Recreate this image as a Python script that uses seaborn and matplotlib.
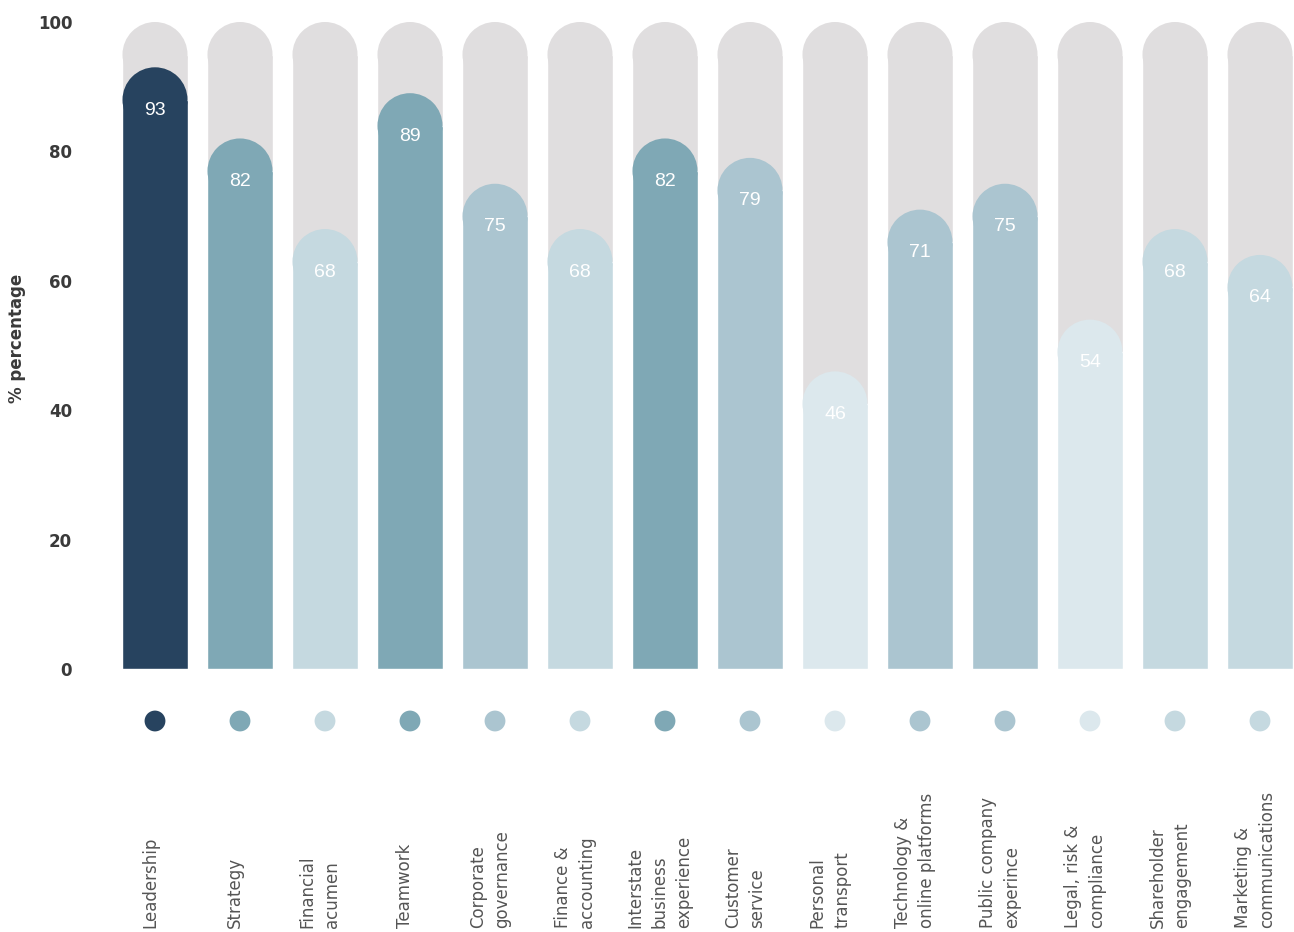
import matplotlib
matplotlib.use("Agg")
import matplotlib.pyplot as plt
from matplotlib.patches import Ellipse
import seaborn as sns
import pandas as pd

categories = ["Leadership", "Strategy", "Financial\nacumen", "Teamwork", "Corporate\ngovernance",
              "Finance &\naccounting", "Interstate\nbusiness\nexperience", "Customer\nservice",
              "Personal\ntransport", "Technology &\nonline platforms", "Public company\nexperince",
              "Legal, risk &\ncompliance", "Shareholder\nengagement", "Marketing &\ncommunications"]
values = [93, 82, 68, 89, 75, 68, 82, 79, 46, 71, 75, 54, 68, 64]
bar_colors = ["#27435f", "#7fa8b5", "#c5d9e0", "#7fa8b5", "#abc5d0", "#c5d9e0", "#7fa8b5",
              "#abc5d0", "#dce8ed", "#abc5d0", "#abc5d0", "#dce8ed", "#c5d9e0", "#c5d9e0"]
y_ticks = [0, 20, 40, 60, 80, 100]
full_value = 100

sns.set_theme(style="white")
plt.rcParams['font.family'] = ['Liberation Sans', 'DejaVu Sans']

W, H = 1294, 932
fig = plt.figure(figsize=(W / 100, H / 100), dpi=100)
ax_left, ax_right = 112.5, 1292.5
ax_bottom, ax_top = 669, 22
ax = fig.add_axes([ax_left / W, (H - ax_bottom) / H, (ax_right - ax_left) / W, (ax_bottom - ax_top) / H])

n = len(categories)
xlim = (-0.5, n - 0.5 - (1302.5 - 1292.5) / 85)
ax.set_xlim(*xlim)
ax.set_ylim(0, 100)

bw = 0.765
px_per_x = (ax_right - ax_left) / (xlim[1] - xlim[0])
px_per_y = (ax_bottom - ax_top) / 100.0
r_px = bw * px_per_x / 2
ry = r_px / px_per_y

df = pd.DataFrame({"cat": categories, "val": values})
df["bg"] = full_value - ry
df["body"] = df["val"] - ry

sns.barplot(data=df, x="cat", y="bg", color="#e0dedf", width=bw, ax=ax, saturation=1, order=categories)
sns.barplot(data=df, x="cat", y="body", hue="cat", palette=bar_colors, width=bw, ax=ax,
            saturation=1, order=categories, hue_order=categories, legend=False, dodge=False)
ax.set_xlim(*xlim)
ax.set_ylim(0, 100)

for i, (v, c) in enumerate(zip(values, bar_colors)):
    ax.add_patch(Ellipse((i, full_value - ry), bw, 2 * ry, facecolor="#e0dedf", edgecolor="none", zorder=1.5))
    ax.add_patch(Ellipse((i, v - ry), bw, 2 * ry, facecolor=c, edgecolor="none", zorder=2.5))
    ax.text(i, v - 43 / px_per_y, str(v), color="white", ha="center", va="center", fontsize=14,
            family=["Liberation Sans", "DejaVu Sans"], zorder=5)

# dots below the bars
dot_y = -(721 - ax_bottom) / px_per_y
ax.scatter(range(n), [dot_y] * n, s=225, c=bar_colors, clip_on=False, zorder=5, linewidths=0)

# category labels
label_y = -(928 - ax_bottom) / px_per_y
for i, cat in enumerate(categories):
    ax.text(i - 5 / px_per_x, label_y, cat, rotation=90, ha="center", va="bottom",
            fontsize=12, color="#555555", linespacing=1.45, clip_on=False, multialignment="left",
            family=["DejaVu Sans"])

ax.set_xticks([])
ax.set_xlabel("")
ax.set_yticks(y_ticks)
ax.set_yticklabels([str(t) for t in y_ticks], fontsize=12, color="#3a3a3a", fontweight="bold",
                   family=["DejaVu Sans"])
ax.tick_params(axis="y", length=0, pad=29)
ax.set_ylabel("% percentage", fontsize=12, color="#3a3a3a", fontweight="semibold", family=["DejaVu Sans"])
ax.yaxis.set_label_coords((26 - ax_left) / (ax_right - ax_left), (669 - 338) / 647)
for s in ax.spines.values():
    s.set_visible(False)

fig.savefig("out.png", dpi=100, facecolor="white")
